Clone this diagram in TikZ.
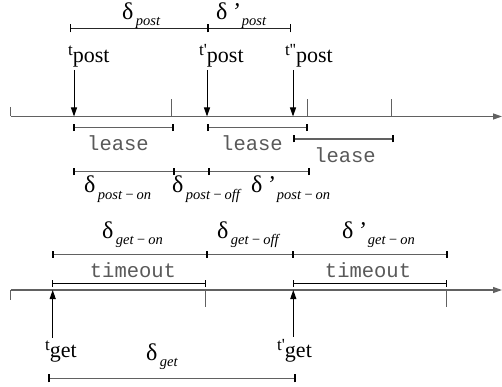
\documentclass[tikz,border=0pt]{standalone}
\usepackage{fontspec}
\setmainfont{Liberation Serif}
\setmonofont{Liberation Mono}
\usetikzlibrary{arrows.meta}
\definecolor{ln}{rgb}{0.38,0.38,0.38}
\newcommand\bigf{\fontsize{24}{24}\selectfont}
\newcommand\subf{\fontsize{14.5}{14.5}\selectfont\itshape}
\newcommand\dsub[2]{{\bigf δ#1}{\subf\,\raisebox{-6pt}{#2}}}
\newcommand\tlab[2]{{\fontsize{17}{17}\selectfont t#1}{\fontsize{22}{22}\selectfont\raisebox{-7pt}{#2}}}
\newcommand\mono[1]{{\fontsize{20.5}{20.5}\selectfont\ttfamily #1}}
\begin{document}
\begin{tikzpicture}[x=1pt,y=-1pt,
  lbl/.style={inner sep=0pt,anchor=base west},
  mlbl/.style={inner sep=0pt,anchor=center,text=black!65},
  axis/.style={draw=ln,line width=1.2pt,-{Triangle[length=9pt,width=6pt]}},
  axtick/.style={draw=ln,line width=1pt},
  bar/.style={draw=ln,line width=1.3pt},
  thk/.style={draw=black,line width=2pt},
  thn/.style={draw=black,line width=1pt},
  arr/.style={draw=black,line width=1pt,-{Triangle[length=9pt,width=6pt]}}]
\useasboundingbox (0,0) rectangle (502,387);

% ---------- top part ----------
\coordinate (dpA) at (70,28.5);
\coordinate (dpB) at (208,28.5);
\coordinate (dpC) at (290,28.5);
\draw[bar,draw=black!85,line width=1pt] (dpA) -- (dpB) -- (dpC);
\draw[thn] ([yshift=-4]dpA) -- ([yshift=4]dpA);
\draw[thk] ([yshift=-4]dpB) -- ([yshift=4]dpB);
\draw[thn] ([yshift=-4]dpC) -- ([yshift=4]dpC);
\node[lbl] (ldp) at (122,20) {\dsub{}{post}};
\node[lbl] (ldpp) at (216,20) {\dsub{\,{\itshape'}}{post}};

\node[lbl] (tp1) at (68,56) {\tlab{}{post}};
\node[lbl] (tp2) at (199,56) {\tlab{\textquotesingle}{post}};
\node[lbl] (tp3) at (285,56) {\tlab{\textquotesingle\textquotesingle}{post}};

\coordinate (axA) at (10.5,116.5);
\coordinate (axB) at (502,116.5);
\draw[axis] (axA) -- (axB);
\draw[axtick] (10.5,107) -- (axA);
\coordinate (k1) at (171,116.5);
\coordinate (k2) at (307.5,116.5);
\coordinate (k3) at (391.5,116.5);
\foreach \k in {k1,k2,k3} \draw[axtick] (\k) -- ++(0,-17);
\coordinate (p1) at (74,116.5);
\coordinate (p2) at (207,116.5);
\coordinate (p3) at (293,116.5);
\draw[arr] (p1 |- tp1.south) ++(0,2) -- (p1);
\draw[arr] (p2 |- tp2.south) ++(0,2) -- (p2);
\draw[arr] (p3 |- tp3.south) ++(0,2) -- (p3);

\coordinate (l1a) at (74,127.7);  \coordinate (l1b) at (172.5,127.7);
\coordinate (l2a) at (207.5,127.7); \coordinate (l2b) at (306.5,127.7);
\coordinate (l3a) at (294,139);   \coordinate (l3b) at (393,139);
\foreach \a/\b in {l1a/l1b,l2a/l2b,l3a/l3b}{
  \draw[bar] (\a) -- (\b);
  \draw[thk] ([yshift=-3.5]\a) -- ([yshift=3.5]\a);
  \draw[thk] ([yshift=-3.5]\b) -- ([yshift=3.5]\b);}
\node[mlbl] (ls1) at (118,143) {\mono{lease}};
\node[mlbl] (ls2) at (252,143) {\mono{lease}};
\node[mlbl] (ls3) at (345,155) {\mono{lease}};

\coordinate (d1) at (74,171.7); \coordinate (d2) at (174,171.7);
\coordinate (d3) at (209,171.7); \coordinate (d4) at (309,171.7);
\draw[bar] (d1) -- (d2) -- (d3) -- (d4);
\foreach \c in {d1,d2,d3,d4} \draw[thk] ([yshift=-3.5]\c) -- ([yshift=3.5]\c);
\node[lbl] (dpo1) at (84,193) {\dsub{}{post\,−\,on}};
\node[lbl] (dpo2) at (172,193) {\dsub{}{post\,−\,off}};
\node[lbl] (dpo3) at (251,193) {\dsub{\,{\itshape'}}{post\,−\,on}};

% ---------- bottom part ----------
\node[lbl] (dg1) at (102,238) {\dsub{}{get\,−\,on}};
\node[lbl] (dg2) at (217,238) {\dsub{}{get\,−\,off}};
\node[lbl] (dg3) at (342,238) {\dsub{\,{\itshape'}}{get\,−\,on}};
\coordinate (g1) at (52.7,254.3); \coordinate (g2) at (206.7,254.3);
\coordinate (g3) at (293.3,254.3); \coordinate (g4) at (446.7,254.3);
\draw[bar] (g1) -- (g2) -- (g3) -- (g4);
\foreach \c in {g1,g2,g3,g4} \draw[thk] ([yshift=-3.5]\c) -- ([yshift=3.5]\c);

\coordinate (o1a) at (52.7,283.3); \coordinate (o1b) at (205.7,283.3);
\coordinate (o2a) at (293.3,283.3); \coordinate (o2b) at (446.7,283.3);
\foreach \a/\b in {o1a/o1b,o2a/o2b}{
  \draw[thn] (\a) -- (\b);
  \draw[thn] ([yshift=-3.5]\a) -- ([yshift=3.5]\a);
  \draw[thn] ([yshift=-3.5]\b) -- ([yshift=3.5]\b);}
\node[mlbl] (to1) at (133,270) {\mono{timeout}};
\node[mlbl] (to2) at (368,270) {\mono{timeout}};

\coordinate (bxA) at (10.7,290);
\coordinate (bxB) at (502,290);
\draw[axis] (bxA) -- (bxB);
\draw[axtick] (bxA) -- ++(0,10);
\coordinate (bk1) at (205.7,290);
\coordinate (bk2) at (446.7,290);
\foreach \k in {bk1,bk2} \draw[axtick] (\k) -- ++(0,17);
\coordinate (q1) at (52.7,290);
\coordinate (q2) at (293.3,290);
\node[lbl] (tg1) at (45,350) {\tlab{}{get}};
\node[lbl] (tg2) at (277,350) {\tlab{\textquotesingle}{get}};
\draw[arr] (q1 |- tg1.north) ++(0,-2) -- (q1);
\draw[arr] (q2 |- tg2.north) ++(0,-2) -- (q2);

\node[lbl] (dget) at (146,360) {\dsub{}{get}};
\coordinate (e1) at (49,378.3); \coordinate (e2) at (294.7,378.3);
\draw[bar] (e1) -- (e2);
\draw[thk] ([yshift=-4]e1) -- ([yshift=4]e1);
\draw[thk] ([yshift=-4]e2) -- ([yshift=4]e2);
\end{tikzpicture}
\end{document}
